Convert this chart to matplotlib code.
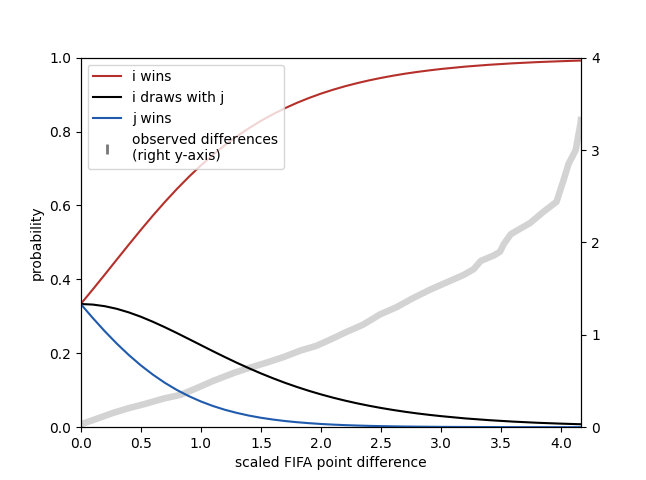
import numpy as np
import matplotlib
matplotlib.use("Agg")
import matplotlib.pyplot as plt
from matplotlib.lines import Line2D

# outcome probabilities
diff = [0.0, 0.1, 0.2, 0.3, 0.4, 0.5, 0.6, 0.7, 0.8, 0.9, 1.0, 1.1, 1.2,
        1.3, 1.4, 1.5, 1.6, 1.7, 1.8, 1.9, 2.0, 2.1, 2.2, 2.3, 2.4, 2.5,
        2.6, 2.7, 2.8, 2.9, 3.0, 3.2, 3.4, 3.6, 3.8, 4.0, 4.2]
p_i_wins = [0.3333, 0.3727, 0.4129, 0.4536, 0.4940, 0.5338, 0.5724, 0.6094,
            0.6445, 0.6775, 0.7083, 0.7369, 0.7632, 0.7872, 0.8091, 0.8290,
            0.8469, 0.8631, 0.8777, 0.8908, 0.9026, 0.9131, 0.9225, 0.9309,
            0.9384, 0.9451, 0.9511, 0.9565, 0.9612, 0.9654, 0.9692, 0.9756,
            0.9806, 0.9846, 0.9878, 0.9903, 0.9924]
p_draw = [0.3333, 0.3318, 0.3274, 0.3203, 0.3106, 0.2989, 0.2853, 0.2705,
          0.2548, 0.2385, 0.2221, 0.2057, 0.1897, 0.1742, 0.1595, 0.1455,
          0.1324, 0.1201, 0.1088, 0.0983, 0.0887, 0.0799, 0.0719, 0.0646,
          0.0580, 0.0520, 0.0466, 0.0417, 0.0373, 0.0334, 0.0299, 0.0238,
          0.0190, 0.0151, 0.0120, 0.0096, 0.0076]
p_j_wins = [0.3333, 0.2955, 0.2596, 0.2261, 0.1953, 0.1673, 0.1423, 0.1201,
            0.1007, 0.0840, 0.0696, 0.0574, 0.0471, 0.0386, 0.0314, 0.0255,
            0.0207, 0.0167, 0.0135, 0.0109, 0.0087, 0.0070, 0.0056, 0.0045,
            0.0036, 0.0029, 0.0023, 0.0018, 0.0015, 0.0012, 0.0009, 0.0006,
            0.0004, 0.0002, 0.0002, 0.0001, 0.0001]

# observed differences (right axis)
obs_x = [0.00, 0.13, 0.27, 0.41, 0.53, 0.69, 0.83, 0.96, 1.10, 1.28, 1.41,
         1.55, 1.69, 1.83, 1.96, 2.08, 2.21, 2.35, 2.49, 2.63, 2.77, 2.91,
         3.05, 3.19, 3.27, 3.33, 3.44, 3.49, 3.52, 3.58, 3.74, 3.85, 3.96,
         3.99, 4.02, 4.06, 4.12, 4.14, 4.16, 4.165]
obs_y = [0.03, 0.09, 0.155, 0.21, 0.25, 0.31, 0.35, 0.42, 0.50, 0.59, 0.645,
         0.70, 0.76, 0.83, 0.88, 0.95, 1.03, 1.11, 1.22, 1.30, 1.40, 1.49,
         1.57, 1.65, 1.71, 1.80, 1.86, 1.90, 1.98, 2.09, 2.21, 2.33, 2.44,
         2.56, 2.68, 2.85, 3.00, 3.15, 3.29, 3.36]

red = '#b5302b'
blue = '#1f5aad'

fig, ax = plt.subplots(figsize=(6.46, 4.8), dpi=100)
ax2 = ax.twinx()

ax2.plot(obs_x, obs_y, color='lightgray', lw=4.7, solid_capstyle='butt')
ax2.set_ylim(0, 4)
ax2.set_yticks([0, 1, 2, 3, 4])

l1, = ax.plot(diff, p_i_wins, color=red, lw=1.5, label='i wins')
l2, = ax.plot(diff, p_draw, color='black', lw=1.5, label='i draws with j')
l3, = ax.plot(diff, p_j_wins, color=blue, lw=1.5, label='j wins')
obs_handle = Line2D([], [], ls='none', marker='|', color='#777777', ms=7, mew=2,
                    label='observed differences\n(right y-axis)')

# curves above the grey band
ax.set_zorder(ax2.get_zorder() + 1)
ax.patch.set_visible(False)

ax.set_xlim(0, 4.167)
ax.set_ylim(0, 1)
ax.set_xlabel('scaled FIFA point difference')
ax.set_ylabel('probability')
ax.legend(handles=[l1, l2, l3, obs_handle], loc='upper left')

plt.savefig('out.png', dpi=100)
